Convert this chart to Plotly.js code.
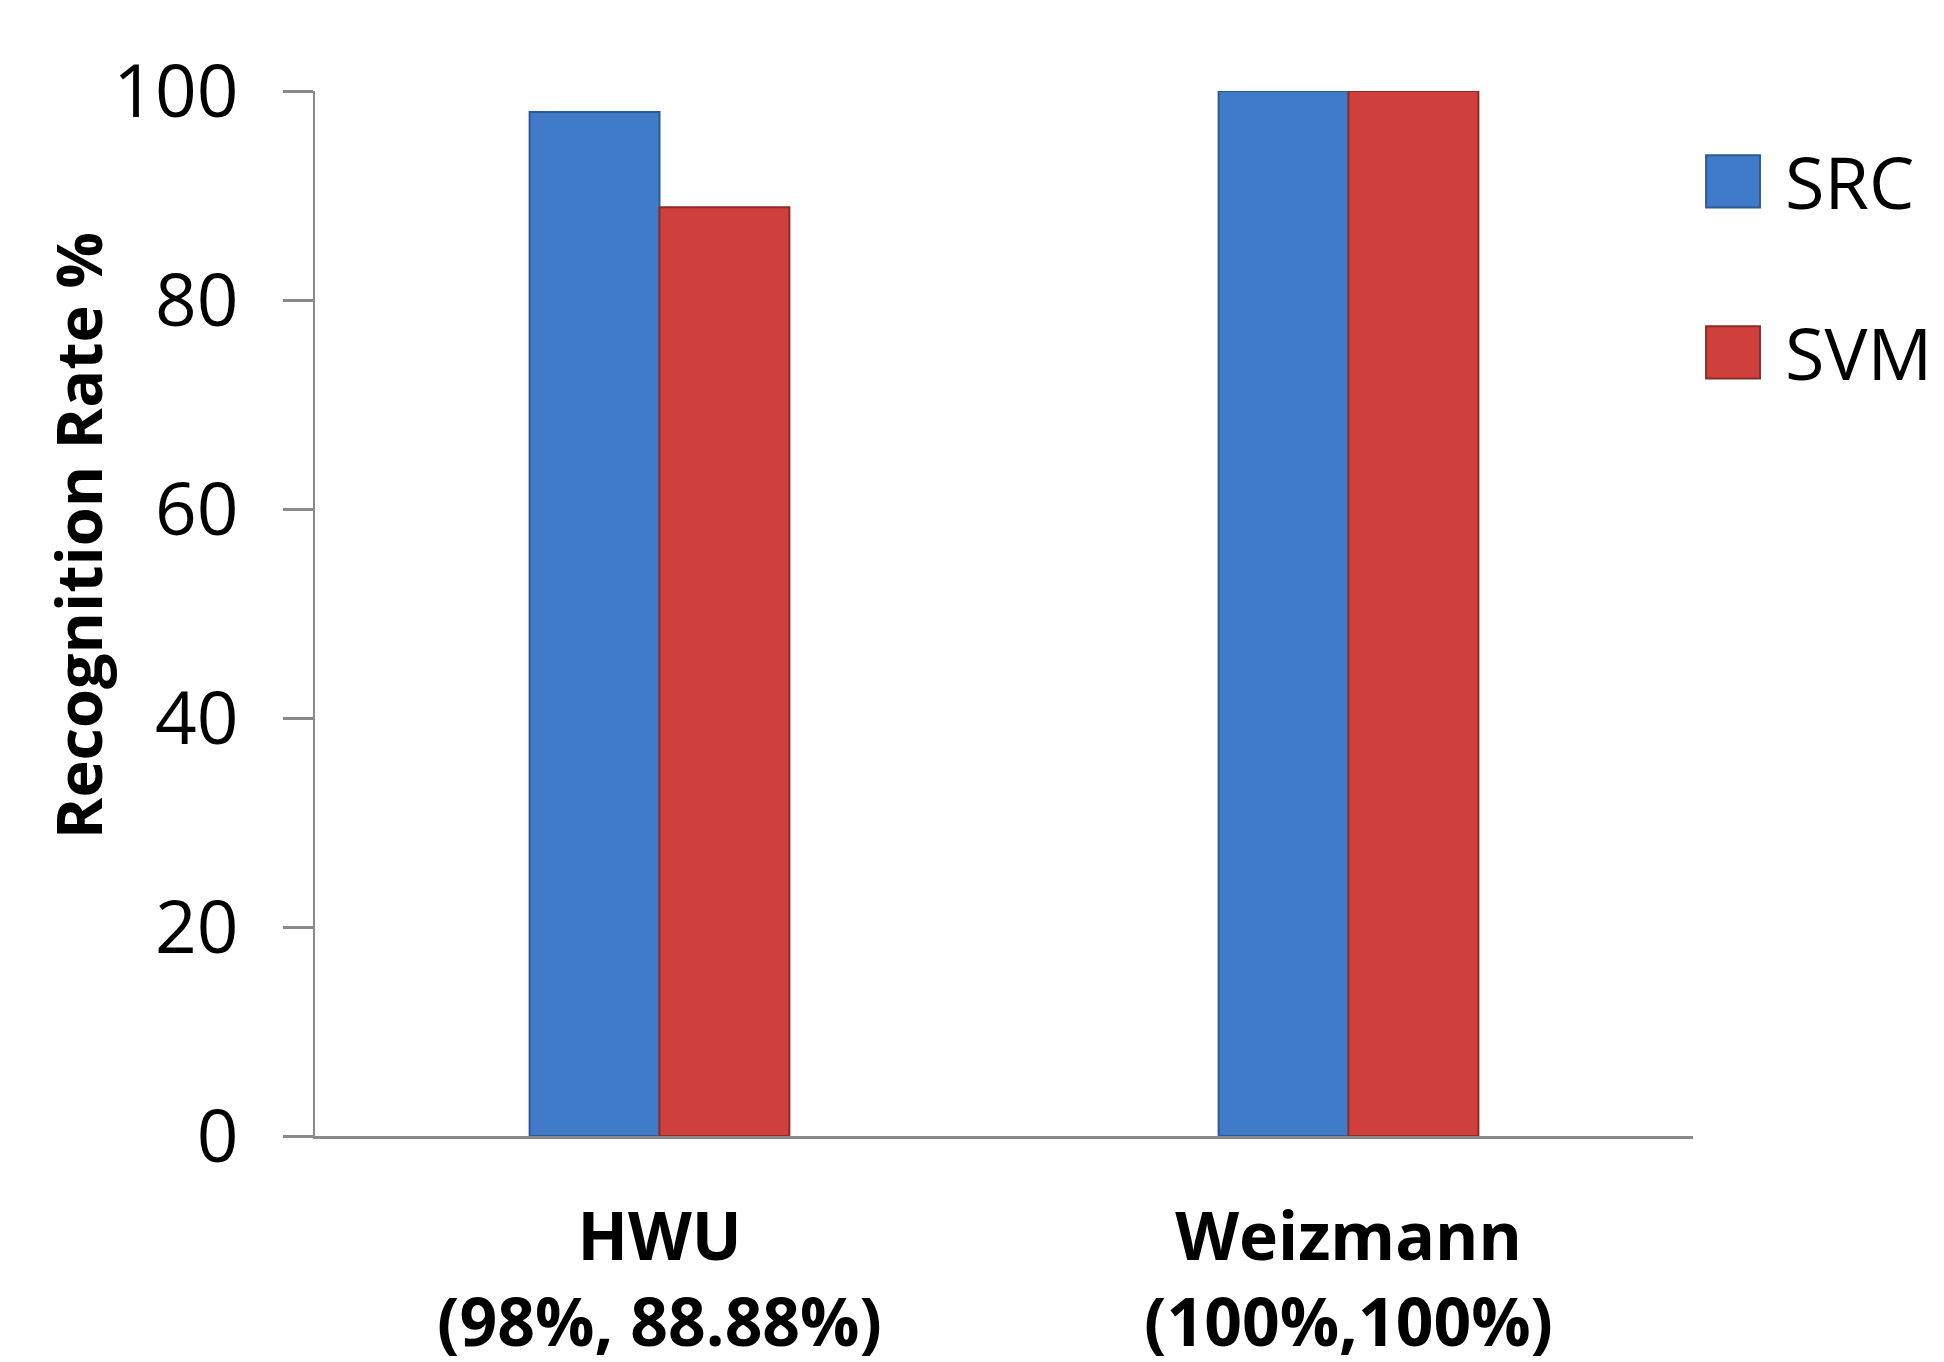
<!DOCTYPE html>
<html>
<head>
<meta charset="utf-8">
<script src="https://cdn.plot.ly/plotly-3.0.1.min.js"></script>
<style>html,body{margin:0;padding:0;background:#fff;}#chart{width:1944px;height:1362px;}</style>
</head>
<body>
<div id="chart"></div>
<script>
// Data
const categories = ["HWU", "Weizmann"];
const categoryLabels = ["<b>HWU<br>(98%, 88.88%)</b>", "<b>Weizmann<br>(100%,100%)</b>"];
const srcValues = [98, 100];
const svmValues = [88.88, 100];
const seriesNames = ["SRC", "SVM"];
const yTicks = [0, 20, 40, 60, 80, 100];
const yTitle = "Recognition Rate %";

const FONT = "Open Sans, Noto Sans, DejaVu Sans, sans-serif";
const blue = "#3F7BC9", blueEdge = "#2D5A96";
const red = "#CF403D", redEdge = "#8E2A28";

const traces = [
  {type: "bar", x: categories, y: srcValues, name: seriesNames[0], showlegend: false,
   marker: {color: blue, line: {color: blueEdge, width: 2}}, hoverinfo: "skip"},
  {type: "bar", x: categories, y: svmValues, name: seriesNames[1], showlegend: false,
   marker: {color: red, line: {color: redEdge, width: 2}}, hoverinfo: "skip"}
];

// legend built from series names (large square swatches)
const legendColors = [[blue, blueEdge], [red, redEdge]];
const legendY = [0.9134, 0.7499];
const shapes = [];
const annotations = [];
seriesNames.forEach((n, i) => {
  shapes.push({type: "rect", xref: "paper", yref: "paper",
    x0: 1.0095, x1: 1.0486, y0: legendY[i] - 0.0250, y1: legendY[i] + 0.0250,
    fillcolor: legendColors[i][0], line: {color: legendColors[i][1], width: 2}});
  annotations.push({xref: "paper", yref: "paper", x: 1.0653, y: legendY[i],
    xanchor: "left", yanchor: "middle", showarrow: false, text: n,
    font: {family: FONT, size: 72, color: "#000"}});
});
annotations.push({xref: "paper", yref: "paper", x: -0.1727, y: 0.574,
  xanchor: "center", yanchor: "middle", showarrow: false, textangle: -90,
  text: "<b>" + yTitle + "</b>", font: {family: FONT, size: 63, color: "#000"}});

const layout = {
  width: 1944, height: 1362,
  margin: {l: 315, r: 251, t: 90.5, b: 226, pad: 0},
  paper_bgcolor: "#fff", plot_bgcolor: "#fff",
  barmode: "group", bargap: 0.623, bargroupgap: 0,
  showlegend: false,
  font: {family: FONT, color: "#000"},
  xaxis: {type: "category", range: [-0.5, 1.5], tickmode: "array",
    tickvals: categories, ticktext: categoryLabels,
    showline: true, linecolor: "#8a8a8a", linewidth: 3, ticks: "",
    showgrid: false, zeroline: false, ticklabelstandoff: 42,
    tickfont: {family: FONT, size: 66, color: "#000"}, fixedrange: true},
  yaxis: {range: [0, 100], tickmode: "array", tickvals: yTicks,
    showline: true, linecolor: "#8a8a8a", linewidth: 2,
    ticks: "outside", ticklen: 30, tickwidth: 3, tickcolor: "#8a8a8a",
    showgrid: false, zeroline: false, ticklabelstandoff: 30,
    tickfont: {family: FONT, size: 73, color: "#000"}, fixedrange: true},
  shapes: shapes,
  annotations: annotations
};

Plotly.newPlot("chart", traces, layout, {staticPlot: true, displayModeBar: false});
</script>
</body>
</html>
